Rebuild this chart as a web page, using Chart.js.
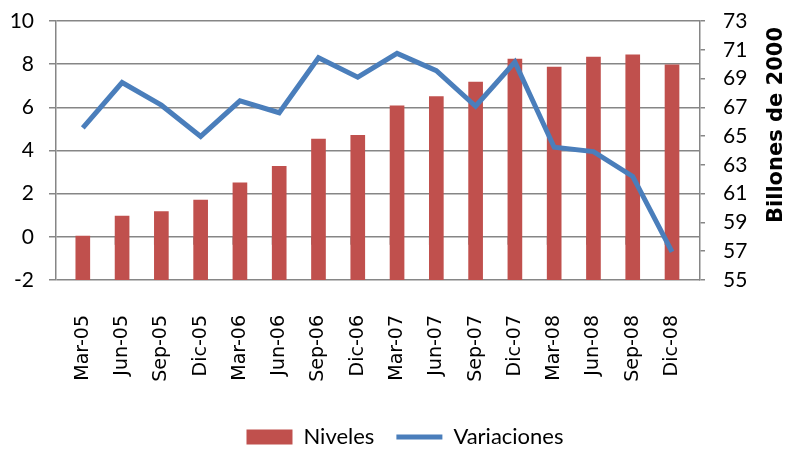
<!DOCTYPE html>
<html>
<head>
<meta charset="utf-8">
<script src="https://cdn.jsdelivr.net/npm/chart.js@4.4.1/dist/chart.umd.min.js"></script>
<style>
  html, body { margin: 0; padding: 0; background: #ffffff; }
  #wrap { width: 788px; height: 450px; position: relative; }
</style>
</head>
<body>
<div id="wrap"><canvas id="c" width="788" height="450"></canvas></div>
<script>
const categories = ["Mar-05","Jun-05","Sep-05","Dic-05","Mar-06","Jun-06","Sep-06","Dic-06","Mar-07","Jun-07","Sep-07","Dic-07","Mar-08","Jun-08","Sep-08","Dic-08"];
const niveles = [58.05, 59.45, 59.75, 60.55, 61.75, 62.9, 64.8, 65.05, 67.1, 67.75, 68.75, 70.35, 69.8, 70.5, 70.65, 69.95];
const variaciones = [5.05, 7.15, 6.1, 4.65, 6.3, 5.75, 8.3, 7.4, 8.5, 7.7, 6.05, 8.1, 4.15, 3.95, 2.8, -0.7];
const leftTicks = [-2, 0, 2, 4, 6, 8, 10];
const rightTicks = [55, 57, 59, 61, 63, 65, 67, 69, 71, 73];
const rightTitle = "Billones de 2000";

const GRID = '#868686';
const numFont = { family: 'Lato', size: 21 };

const zeroTicks = {
  id: 'zeroTicks',
  beforeDatasetsDraw(chart) {
    const x = chart.scales.x, y = chart.scales.y;
    const ctx = chart.ctx;
    const y0 = y.getPixelForValue(0);
    ctx.save();
    ctx.strokeStyle = GRID;
    ctx.lineWidth = 1.5;
    for (let i = 1; i < categories.length; i++) {
      const px = x.getPixelForValue(i - 0.17);
      ctx.beginPath();
      ctx.moveTo(px, y0);
      ctx.lineTo(px, y0 + 8);
      ctx.stroke();
    }
    ctx.restore();
  }
};

const rightTitlePlugin = {
  id: 'rightTitle',
  afterDraw(chart) {
    const s = chart.scales.y1;
    const ctx = chart.ctx;
    ctx.save();
    ctx.font = 'bold 21px "DejaVu Sans"';
    ctx.fillStyle = '#000';
    ctx.textAlign = 'left';
    ctx.textBaseline = 'middle';
    ctx.translate(s.right - 11, s.top + 202);
    ctx.rotate(-Math.PI / 2);
    ctx.fillText(rightTitle, 0, 0);
    ctx.restore();
  }
};

const legendShift = {
  id: 'legendShift',
  afterLayout(chart) {
    if (chart.legend) { chart.legend.left += 11; chart.legend.right += 11; }
  }
};

function noVertPad(s) { s.paddingTop = 0; s.paddingBottom = 0; }

new Chart(document.getElementById('c'), {
  data: {
    datasets: [
      {
        type: 'bar',
        label: 'Niveles',
        data: niveles.map((v, i) => ({ x: i, y: v })),
        backgroundColor: '#C0504D',
        borderWidth: 0,
        barThickness: 14,
        yAxisID: 'y1',
        order: 1
      },
      {
        type: 'line',
        label: 'Variaciones',
        data: variaciones.map((v, i) => ({ x: i, y: v })),
        borderColor: '#4A7EBB',
        backgroundColor: '#4A7EBB',
        borderWidth: 5,
        pointRadius: 0,
        tension: 0,
        yAxisID: 'y',
        order: 0
      }
    ]
  },
  options: {
    responsive: false,
    animation: false,
    events: [],
    layout: { padding: { top: 21, left: 0, right: 0, bottom: -8 } },
    scales: {
      x: {
        type: 'linear',
        min: -0.17,
        max: 15.2,
        afterBuildTicks(s) { s.ticks = categories.map((c, i) => ({ value: i })); },
        afterFit(s) { s.height = 124; s.paddingLeft = 0; s.paddingRight = 0; },
        ticks: {
          autoSkip: false,
          maxRotation: 90,
          minRotation: 90,
          padding: 35,
          color: '#000',
          font: { family: 'DejaVu Sans', size: 19 },
          callback(v) { return categories[v]; }
        },
        grid: { display: false, drawTicks: false },
        border: { display: false }
      },
      y: {
        position: 'left',
        min: -2,
        max: 10,
        afterBuildTicks(s) { s.ticks = leftTicks.map(v => ({ value: v })); },
        afterFit(s) { s.width = 56; noVertPad(s); },
        ticks: { color: '#000', font: numFont, padding: 15, autoSkip: false },
        grid: { color: GRID, lineWidth: 1.5, tickLength: 7 },
        border: { color: GRID, width: 1.5 }
      },
      y1: {
        position: 'right',
        min: 55,
        max: 73,
        afterBuildTicks(s) { s.ticks = rightTicks.map(v => ({ value: v })); },
        afterFit(s) { s.width = 88; noVertPad(s); },
        ticks: { color: '#000', font: numFont, padding: 18, autoSkip: false },
        grid: { drawOnChartArea: false, color: GRID, lineWidth: 1.5, tickLength: 5 },
        border: { color: GRID, width: 1.5 }
      }
    },
    plugins: {
      tooltip: { enabled: false },
      legend: {
        position: 'bottom',
        labels: {
          usePointStyle: true,
          pointStyleWidth: 46,
          boxHeight: 15,
          padding: 22,
          color: '#000',
          font: { family: 'Lato', size: 22 },
          generateLabels(chart) {
            const items = Chart.defaults.plugins.legend.labels.generateLabels(chart);
            items.forEach(it => {
              if (it.datasetIndex === 0) { it.pointStyle = 'rect'; it.lineWidth = 0; }
              else { it.pointStyle = 'line'; it.lineWidth = 5; }
            });
            return items.sort((a, b) => a.datasetIndex - b.datasetIndex);
          }
        }
      }
    }
  },
  plugins: [zeroTicks, rightTitlePlugin, legendShift]
});
</script>
</body>
</html>
